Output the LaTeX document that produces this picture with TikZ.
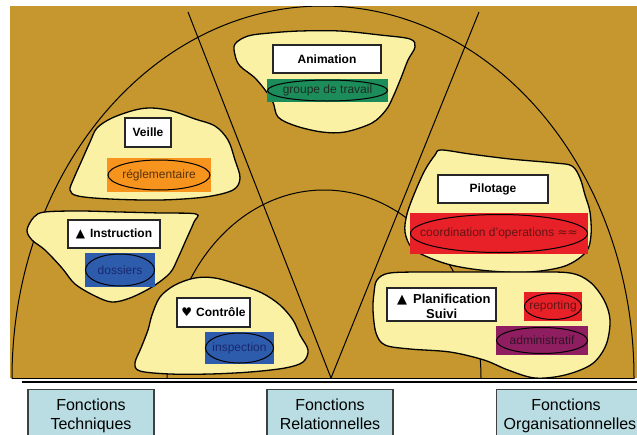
\documentclass[tikz,border=0pt]{standalone}
\usepackage{fontspec}
\setmainfont{Liberation Sans}
\newfontfamily\symf{DejaVu Sans}
\usetikzlibrary{shapes.geometric}
\definecolor{bgbrown}{RGB}{197,151,46}
\definecolor{blobyel}{RGB}{250,241,165}
\definecolor{tgreen}{RGB}{28,140,90}
\definecolor{torange}{RGB}{247,148,30}
\definecolor{tblue}{RGB}{46,92,172}
\definecolor{tred}{RGB}{232,32,40}
\definecolor{tpurple}{RGB}{142,30,95}
\definecolor{fblue}{RGB}{185,221,226}
\definecolor{txgreen}{RGB}{30,45,35}
\definecolor{txorange}{RGB}{90,50,10}
\definecolor{txblue}{RGB}{25,40,110}
\definecolor{txred}{RGB}{100,20,20}
\definecolor{txpurple}{RGB}{50,20,40}
\tikzset{
  blob/.style={draw=black, line width=1.3pt, fill=blobyel},
  tagbg/.style={fill=#1, draw=none, inner sep=0pt},
  tagell/.style={ellipse, draw=black, line width=1pt, inner sep=0pt},
  tagtxt/.style={inner sep=0pt, text=#1, font=\fontsize{12}{14}\selectfont},
  lblbox/.style={draw=black!85, fill=white, line width=1.2pt, inner sep=0pt,
    font=\bfseries\fontsize{12}{14}\selectfont},
  lbltxt/.style={inner sep=0pt, font=\bfseries\fontsize{13}{15}\selectfont},
  fbox/.style={draw=black!75, fill=fblue, line width=1.2pt, inner sep=0pt},
  ftxt/.style={font=\fontsize{16}{19}\selectfont, inner sep=0pt, anchor=base},
  guide/.style={draw=black, line width=1pt},
}
\begin{document}
\begin{tikzpicture}[x=1pt,y=-1pt]
\useasboundingbox (0,0) rectangle (637,434);
% background
\fill[bgbrown] (10,6) rectangle (637,378);
\begin{scope}
  \clip (10,6) rectangle (637,378);
  \draw[guide] (323,378) ellipse [x radius=311pt, y radius=372pt];
  \draw[guide] (324,378) ellipse [x radius=157pt, y radius=188pt];
\end{scope}
\coordinate (apex) at (331,378);
\coordinate (ltop) at (188,12);
\coordinate (rtop) at (479,12);
\coordinate (bl) at (12,378);
\coordinate (br) at (634,378);
\coordinate (tl) at (22,382);
\coordinate (tr) at (637,382);
\draw[guide] (apex) -- (ltop);
\draw[guide] (apex) -- (rtop);
\draw[guide] (bl) -- (br);
\draw[draw=black, line width=2.6pt] (tl) -- (tr);

% blobs
\draw[blob] plot[smooth cycle, tension=0.55] coordinates {
 (235,44) (248,36) (270,33) (300,31) (340,31) (380,35) (410,39) (415,47)
 (408,60) (401,78) (393,97) (386,110) (372,123) (345,132) (322,132) (296,126)
 (278,117) (272,100) (256,79) (240,66) (235,55)};
\draw[blob] plot[smooth cycle, tension=0.55] coordinates {
 (97,128) (112,118) (135,110) (152,108) (172,111) (195,119) (215,126)
 (228,140) (235,160) (240,178) (233,190) (205,197) (160,200) (110,199)
 (78,196) (70,190) (74,178) (82,160) (90,142)};
\draw[blob] plot[smooth cycle, tension=0.55] coordinates {
 (27,230) (34,217) (45,212) (80,211) (120,212) (160,213) (196,214) (194,222)
 (186,240) (178,258) (170,273) (152,287) (130,298) (112,302) (95,296)
 (75,284) (62,268) (45,250) (32,240)};
\draw[blob] plot[smooth cycle, tension=0.55] coordinates {
 (160,297) (175,285) (195,278) (215,278) (240,285) (262,293) (280,305)
 (293,320) (300,335) (308,350) (303,362) (285,368) (250,372) (210,374)
 (170,374) (140,371) (135,363) (141,348) (148,330) (152,315)};
\draw[blob] plot[smooth cycle, tension=0.55] coordinates {
 (441,150) (470,154) (510,159) (555,163) (572,166) (580,178) (585,195)
 (590,212) (591,235) (586,252) (565,266) (530,272) (490,271) (455,266)
 (430,258) (412,248) (405,232) (407,214) (415,192) (425,170) (435,155)};
\draw[blob] plot[smooth cycle, tension=0.55] coordinates {
 (377,280) (390,273) (430,272) (480,272) (530,272) (570,273) (590,282)
 (604,300) (610,320) (606,345) (592,364) (565,375) (535,378) (508,370)
 (484,360) (450,352) (410,349) (385,345) (376,333) (373,310) (374,293)};

% labels
\node[lblbox, minimum width=108pt, minimum height=28pt] (anim) at (327,59) {Animation};
\node[lblbox, minimum width=46pt, minimum height=29pt] (veille) at (148,132.5) {Veille};
\node[lblbox, minimum width=92pt, minimum height=28pt] (instr) at (114,234)
  {{\symf ▲}\hspace{5pt}Instruction};
\node[lblbox, minimum width=73pt, minimum height=29pt] (ctrl) at (213.5,312.5)
  {{\symf ♥}\hspace{4pt}Contrôle};
\node[lblbox, minimum width=110pt, minimum height=28pt] (pilot) at (493,189) {Pilotage};
\node[lblbox, minimum width=109pt, minimum height=33pt] (planbox) at (441.5,304.5) {};
\node[lbltxt, anchor=base west] (plan1) at (397,303.5) {{\symf ▲}\hspace{6pt}Planification};
\node[lbltxt, anchor=base west] (plan2) at (426,318.5) {Suivi};

% tags
\node[tagbg=tgreen, minimum width=121pt, minimum height=23pt] (gtr) at (327.5,90.5) {};
\node[tagell, minimum width=120pt, minimum height=21pt] (gte) at (gtr) {};
\node[tagtxt=txgreen] (gt) at (gtr) {groupe de travail};
\node[tagbg=torange, minimum width=104pt, minimum height=34pt] (regr) at (159,175) {};
\node[tagell, minimum width=102pt, minimum height=30pt] (rege) at (regr) {};
\node[tagtxt=txorange] (reg) at (regr) {réglementaire};
\node[tagbg=tblue, minimum width=70pt, minimum height=34pt] (dosr) at (120,270) {};
\node[tagell, minimum width=69pt, minimum height=32pt] (dose) at (dosr) {};
\node[tagtxt=txblue] (dos) at (dosr) {dossiers};
\node[tagbg=tblue, minimum width=69pt, minimum height=32pt] (insr) at (239.5,348) {};
\node[tagell, minimum width=68pt, minimum height=30pt] (inse) at (insr) {};
\node[tagtxt=txblue] (ins) at (insr) {inspection};
\node[tagbg=tred, minimum width=178pt, minimum height=41pt] (coor) at (499,233.5) {};
\node[tagell, minimum width=177pt, minimum height=38pt] (cooe) at (coor) {};
\node[tagtxt=txred] (coo) at (coor) {coordination d'operations {\symf ≈≈}};
\node[tagbg=tred, minimum width=58pt, minimum height=29pt] (repr) at (553,306.5) {};
\node[tagell, minimum width=57pt, minimum height=26pt] (repe) at (repr) {};
\node[tagtxt=txred] (rep) at (repr) {reporting};
\node[tagbg=tpurple, minimum width=92pt, minimum height=29pt] (admr) at (542,340.5) {};
\node[tagell, minimum width=91pt, minimum height=26pt] (adme) at (admr) {};
\node[tagtxt=txpurple] (adm) at (admr) {administratif};

% bottom boxes
\node[fbox, minimum width=126pt, minimum height=60pt, anchor=north] (ftb) at (91,389) {};
\node[fbox, minimum width=126pt, minimum height=60pt, anchor=north] (frb) at (330,389) {};
\node[fbox, minimum width=170pt, minimum height=60pt, anchor=north west] (fob) at (496,389) {};
\node[ftxt] (ft1) at (91,410) {Fonctions};
\node[ftxt] (ft2) at (91,429) {Techniques};
\node[ftxt] (fr1) at (330,410) {Fonctions};
\node[ftxt] (fr2) at (330,429) {Relationnelles};
\node[ftxt] (fo1) at (566,410) {Fonctions};
\node[ftxt] (fo2) at (570,429) {Organisationnelles};
\end{tikzpicture}
\end{document}
